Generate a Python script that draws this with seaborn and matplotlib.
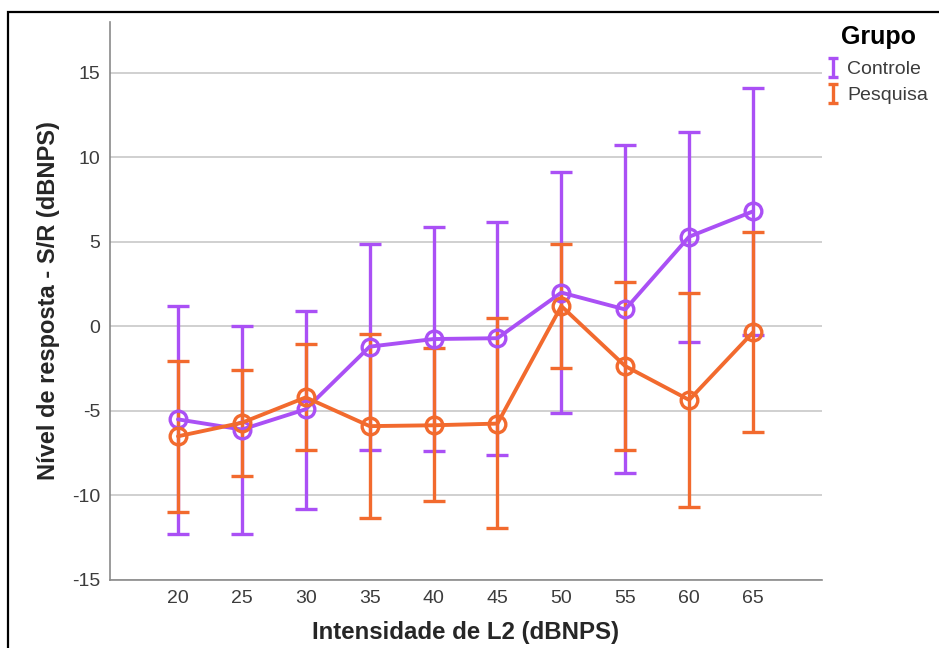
import numpy as np
import pandas as pd
import matplotlib
matplotlib.use("Agg")
import matplotlib.pyplot as plt
import seaborn as sns
from matplotlib.patches import Rectangle

intensidade = [20, 25, 30, 35, 40, 45, 50, 55, 60, 65]
grupos = ["Controle", "Pesquisa"]

controle_media = [-5.5, -6.1, -4.9, -1.2, -0.75, -0.7, 2.0, 1.0, 5.3, 6.8]
controle_sup = [1.2, 0.0, 0.9, 4.9, 5.9, 6.2, 9.1, 10.7, 11.5, 14.1]
controle_inf = [-12.3, -12.3, -10.8, -7.3, -7.4, -7.6, -5.1, -8.7, -0.95, -0.5]

pesquisa_media = [-6.5, -5.7, -4.2, -5.9, -5.85, -5.75, 1.2, -2.35, -4.35, -0.35]
pesquisa_sup = [-2.05, -2.6, -1.05, -0.45, -1.3, 0.5, 4.85, 2.6, 1.95, 5.6]
pesquisa_inf = [-11.0, -8.85, -7.3, -11.35, -10.35, -11.95, -2.45, -7.3, -10.7, -6.25]

cores = {"Controle": "#AA50F5", "Pesquisa": "#F26A2E"}

sns.set_theme(style="white")
plt.rcParams["font.family"] = ["Liberation Sans", "DejaVu Sans"]
plt.rcParams["axes.unicode_minus"] = False

df = pd.DataFrame({
    "Intensidade": intensidade * 2,
    "Media": controle_media + pesquisa_media,
    "Sup": controle_sup + pesquisa_sup,
    "Inf": controle_inf + pesquisa_inf,
    "Grupo": ["Controle"] * len(intensidade) + ["Pesquisa"] * len(intensidade),
})

fig = plt.figure(figsize=(9.39, 6.48), dpi=100)
ax = fig.add_axes([110 / 939, 1 - 580 / 648, 712 / 939, 558 / 648])

for g in grupos:
    sub = df[df["Grupo"] == g]
    c = cores[g]
    ax.errorbar(sub["Intensidade"], sub["Media"],
                yerr=[sub["Media"] - sub["Inf"], sub["Sup"] - sub["Media"]],
                fmt="none", ecolor=c, elinewidth=2.4, capsize=8, capthick=2.4,
                zorder=2)
    sns.lineplot(data=sub, x="Intensidade", y="Media", color=c, marker="o",
                 markersize=12, markerfacecolor="none", markeredgecolor=c,
                 markeredgewidth=2.4, linewidth=2.8, ax=ax, legend=False,
                 zorder=3, errorbar=None)

ax.set_xlim(14.68, 70.4)
ax.set_ylim(-15, 18)
ax.set_xticks(intensidade)
ax.set_xticklabels([str(v) for v in intensidade])
ax.set_yticks([-15, -10, -5, 0, 5, 10, 15])
ax.yaxis.grid(True, color="#c8c8c8", linewidth=1.2)
ax.set_axisbelow(True)
for s in ["top", "right"]:
    ax.spines[s].set_visible(False)
for s in ["left", "bottom"]:
    ax.spines[s].set_color("#8a8a8a")
    ax.spines[s].set_linewidth(1.2)
ax.tick_params(axis="both", length=0, labelsize=14, labelcolor="#3c3c3c", pad=7)
ax.set_xlabel("Intensidade de L2 (dBNPS)", fontsize=17.3, fontweight="bold", labelpad=10)
ax.set_ylabel("Nível de resposta - S/R (dBNPS)", fontsize=17, fontweight="bold", labelpad=9)

# small legend glyphs (I-shaped error bars), drawn on a helper axes placed off-canvas
lax = fig.add_axes([-0.5, -0.5, 0.01, 0.01])
lax.set_axis_off()
handles = []
for i, g in enumerate(grupos):
    eb = lax.errorbar([i], [0], yerr=[[1], [1]], fmt="none", ecolor=cores[g],
                      elinewidth=2.4, capsize=3.5, capthick=2.4)
    handles.append(eb)

fig.text(878 / 939, 1 - 37 / 648, "Grupo", fontsize=18, fontweight="bold",
         ha="center", va="center", color="black")
leg = fig.legend(handles, grupos, loc="upper left",
                 bbox_to_anchor=(819 / 939, 1 - 53 / 648), frameon=False,
                 fontsize=14, handlelength=0.6, handleheight=0.65,
                 handletextpad=0.45, labelspacing=0.45, borderaxespad=0)
for t in leg.get_texts():
    t.set_color("#3c3c3c")

fig.patches.append(Rectangle((8 / 939, -0.1), 1.2, 1 - 12 / 648 + 0.1,
                             transform=fig.transFigure, fill=False,
                             edgecolor="black", linewidth=1.6))

fig.savefig("out.png", dpi=100)
